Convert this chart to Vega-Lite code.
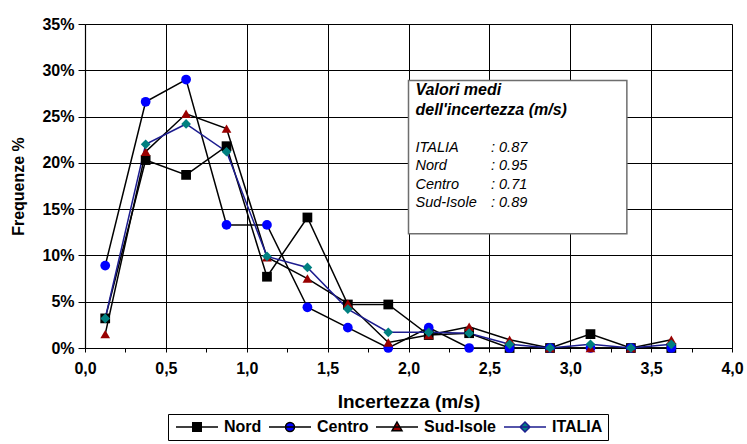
{
  "$schema": "https://vega.github.io/schema/vega-lite/v6.json",
  "width": 647,
  "height": 324,
  "autosize": {"type": "none"},
  "padding": {"left": 85, "top": 24, "right": 15, "bottom": 96},
  "background": "#ffffff",
  "config": {
    "view": {"stroke": null},
    "font": "Liberation Sans",
    "axis": {
      "labelFont": "Liberation Sans",
      "labelFontWeight": "bold",
      "labelFontSize": 16,
      "labelColor": "#000000",
      "titleFont": "Liberation Sans",
      "titleFontWeight": "bold",
      "titleColor": "#000000",
      "domainColor": "#000000",
      "domainWidth": 1.2,
      "tickColor": "#000000",
      "gridColor": "#000000",
      "gridWidth": 1
    }
  },
  "datasets": {
    "freq": [
      {"x": 0.125, "serie": "Nord", "v": 3.2},
      {"x": 0.375, "serie": "Nord", "v": 20.3},
      {"x": 0.625, "serie": "Nord", "v": 18.7},
      {"x": 0.875, "serie": "Nord", "v": 21.8},
      {"x": 1.125, "serie": "Nord", "v": 7.7},
      {"x": 1.375, "serie": "Nord", "v": 14.1},
      {"x": 1.625, "serie": "Nord", "v": 4.7},
      {"x": 1.875, "serie": "Nord", "v": 4.7},
      {"x": 2.125, "serie": "Nord", "v": 1.4},
      {"x": 2.375, "serie": "Nord", "v": 1.6},
      {"x": 2.625, "serie": "Nord", "v": 0.0},
      {"x": 2.875, "serie": "Nord", "v": 0.0},
      {"x": 3.125, "serie": "Nord", "v": 1.5},
      {"x": 3.375, "serie": "Nord", "v": 0.0},
      {"x": 3.625, "serie": "Nord", "v": 0.0},
      {"x": 0.125, "serie": "Centro", "v": 8.9},
      {"x": 0.375, "serie": "Centro", "v": 26.6},
      {"x": 0.625, "serie": "Centro", "v": 29.0},
      {"x": 0.875, "serie": "Centro", "v": 13.3},
      {"x": 1.125, "serie": "Centro", "v": 13.3},
      {"x": 1.375, "serie": "Centro", "v": 4.4},
      {"x": 1.625, "serie": "Centro", "v": 2.2},
      {"x": 1.875, "serie": "Centro", "v": 0.0},
      {"x": 2.125, "serie": "Centro", "v": 2.2},
      {"x": 2.375, "serie": "Centro", "v": 0.0},
      {"x": 2.625, "serie": "Centro", "v": 0.0},
      {"x": 2.875, "serie": "Centro", "v": 0.0},
      {"x": 3.125, "serie": "Centro", "v": 0.0},
      {"x": 3.375, "serie": "Centro", "v": 0.0},
      {"x": 3.625, "serie": "Centro", "v": 0.0},
      {"x": 0.125, "serie": "Sud-Isole", "v": 1.5},
      {"x": 0.375, "serie": "Sud-Isole", "v": 21.2},
      {"x": 0.625, "serie": "Sud-Isole", "v": 25.3},
      {"x": 0.875, "serie": "Sud-Isole", "v": 23.7},
      {"x": 1.125, "serie": "Sud-Isole", "v": 9.8},
      {"x": 1.375, "serie": "Sud-Isole", "v": 7.5},
      {"x": 1.625, "serie": "Sud-Isole", "v": 4.8},
      {"x": 1.875, "serie": "Sud-Isole", "v": 0.6},
      {"x": 2.125, "serie": "Sud-Isole", "v": 1.4},
      {"x": 2.375, "serie": "Sud-Isole", "v": 2.3},
      {"x": 2.625, "serie": "Sud-Isole", "v": 0.9},
      {"x": 2.875, "serie": "Sud-Isole", "v": 0.0},
      {"x": 3.125, "serie": "Sud-Isole", "v": 0.0},
      {"x": 3.375, "serie": "Sud-Isole", "v": 0.0},
      {"x": 3.625, "serie": "Sud-Isole", "v": 0.9},
      {"x": 0.125, "serie": "ITALIA", "v": 3.2},
      {"x": 0.375, "serie": "ITALIA", "v": 22.0},
      {"x": 0.625, "serie": "ITALIA", "v": 24.2},
      {"x": 0.875, "serie": "ITALIA", "v": 21.2},
      {"x": 1.125, "serie": "ITALIA", "v": 9.9},
      {"x": 1.375, "serie": "ITALIA", "v": 8.7},
      {"x": 1.625, "serie": "ITALIA", "v": 4.2},
      {"x": 1.875, "serie": "ITALIA", "v": 1.7},
      {"x": 2.125, "serie": "ITALIA", "v": 1.7},
      {"x": 2.375, "serie": "ITALIA", "v": 1.6},
      {"x": 2.625, "serie": "ITALIA", "v": 0.4},
      {"x": 2.875, "serie": "ITALIA", "v": 0.0},
      {"x": 3.125, "serie": "ITALIA", "v": 0.4},
      {"x": 3.375, "serie": "ITALIA", "v": 0.0},
      {"x": 3.625, "serie": "ITALIA", "v": 0.4}
    ],
    "box": [
      {"titolo": "Valori medi dell'incertezza (m/s)"}
    ]
  },
  "layer": [
    {
      "data": {"name": "freq"},
      "mark": {"type": "line", "strokeWidth": 1.5},
      "encoding": {
        "x": {
          "field": "x",
          "type": "quantitative",
          "scale": {"domain": [0, 4], "nice": false, "zero": false},
          "axis": {
            "title": "Incertezza (m/s)",
            "titleFontSize": 19,
            "titlePadding": 16,
            "values": [0, 0.25, 0.5, 0.75, 1, 1.25, 1.5, 1.75, 2, 2.25, 2.5, 2.75, 3, 3.25, 3.5, 3.75, 4],
            "labelExpr": "abs(datum.value*2-round(datum.value*2))<0.01 ? replace(format(datum.value,'.1f'),'.',',') : ''",
            "labelFlush": false,
            "labelOverlap": false,
            "labelPadding": 8,
            "tickSize": 4,
            "grid": true,
            "gridOpacity": {"condition": {"test": "abs(datum.value*2-round(datum.value*2))<0.01", "value": 1}, "value": 0}
          }
        },
        "y": {
          "field": "v",
          "type": "quantitative",
          "scale": {"domain": [0, 35], "nice": false},
          "axis": {
            "title": "Frequenze %",
            "titleFontSize": 16,
            "titlePadding": 15,
            "values": [0, 5, 10, 15, 20, 25, 30, 35],
            "labelExpr": "datum.value + '%'",
            "labelPadding": 4,
            "tickSize": 7,
            "grid": true
          }
        },
        "stroke": {
          "field": "serie",
          "type": "nominal",
          "scale": {"domain": ["Nord", "Centro", "Sud-Isole", "ITALIA"], "range": ["#000000", "#000000", "#000000", "#1c1c8f"]},
          "legend": null
        }
      }
    },
    {
      "data": {"name": "freq"},
      "mark": {"type": "point", "filled": true, "opacity": 1, "size": 95},
      "encoding": {
        "x": {"field": "x", "type": "quantitative"},
        "y": {"field": "v", "type": "quantitative"},
        "shape": {
          "field": "serie",
          "type": "nominal",
          "scale": {"domain": ["Nord", "Centro", "Sud-Isole", "ITALIA"], "range": ["square", "circle", "triangle-up", "diamond"]},
          "legend": null
        },
        "fill": {
          "field": "serie",
          "type": "nominal",
          "scale": {"domain": ["Nord", "Centro", "Sud-Isole", "ITALIA"], "range": ["#000000", "#0000ff", "#990000", "#008080"]},
          "legend": null
        }
      }
    },
    {
      "data": {"name": "freq"},
      "transform": [{"filter": "datum.v < 0"}],
      "mark": {"type": "point", "filled": true, "opacity": 1, "strokeWidth": 1.5},
      "encoding": {
        "x": {"field": "x", "type": "quantitative"},
        "y": {"field": "v", "type": "quantitative"},
        "shape": {
          "field": "serie",
          "type": "nominal",
          "scale": {
            "domain": ["Nord", "Centro", "Sud-Isole", "ITALIA"],
            "range": [
              "M-1,0H7.4M2.35,-0.85H4.05V0.85H2.35Z",
              "M-1,0H7.4M2.3,0A0.9,0.9,0,1,0,4.1,0A0.9,0.9,0,1,0,2.3,0Z",
              "M-1,0H7.4M3.2,-1L4.2,0.75H2.2Z",
              "M-1,0H7.4M3.2,-1L4.2,0L3.2,1L2.2,0Z"
            ]
          },
          "legend": {"title": null, "orient": "none", "legendX": 83, "legendY": 390, "direction": "horizontal", "columns": 4, "strokeColor": "#000000", "fillColor": "#ffffff", "padding": 5, "symbolSize": 100, "symbolStrokeWidth": 1.5, "symbolOpacity": 1, "labelOffset": 35, "columnPadding": 4, "labelFont": "Liberation Sans", "labelFontWeight": "bold", "labelFontSize": 16, "labelColor": "#000000"}
        },
        "fill": {
          "field": "serie",
          "type": "nominal",
          "scale": {"domain": ["Nord", "Centro", "Sud-Isole", "ITALIA"], "range": ["#000000", "#0000ff", "#990000", "#008080"]},
          "legend": {"title": null, "orient": "none", "legendX": 83, "legendY": 390, "direction": "horizontal", "columns": 4, "strokeColor": "#000000", "fillColor": "#ffffff", "padding": 5, "symbolSize": 100, "symbolStrokeWidth": 1.5, "symbolOpacity": 1, "labelOffset": 35, "columnPadding": 4, "labelFont": "Liberation Sans", "labelFontWeight": "bold", "labelFontSize": 16, "labelColor": "#000000"}
        },
        "stroke": {
          "field": "serie",
          "type": "nominal",
          "scale": {"domain": ["Nord", "Centro", "Sud-Isole", "ITALIA"], "range": ["#000000", "#000000", "#000000", "#1c1c8f"]},
          "legend": {"title": null, "orient": "none", "legendX": 83, "legendY": 390, "direction": "horizontal", "columns": 4, "strokeColor": "#000000", "fillColor": "#ffffff", "padding": 5, "symbolSize": 100, "symbolStrokeWidth": 1.5, "symbolOpacity": 1, "labelOffset": 35, "columnPadding": 4, "labelFont": "Liberation Sans", "labelFontWeight": "bold", "labelFontSize": 16, "labelColor": "#000000"}
        }
      }
    },
    {
      "data": {"name": "box"},
      "mark": {"type": "rect", "fill": "#ffffff", "stroke": "#6e6e6e", "strokeWidth": 1.5},
      "encoding": {
        "x": {"datum": 2.0, "type": "quantitative"},
        "x2": {"datum": 3.35},
        "y": {"datum": 28.9, "type": "quantitative"},
        "y2": {"datum": 12.35}
      }
    },
    {
      "data": {"name": "box"},
      "mark": {"type": "text", "text": ["Valori medi", "dell'incertezza (m/s)"], "align": "left", "baseline": "alphabetic", "font": "Liberation Sans", "fontSize": 16, "fontWeight": "bold", "fontStyle": "italic", "lineHeight": 20, "fill": "#000000"},
      "encoding": {
        "x": {"datum": 2.043, "type": "quantitative"},
        "y": {"datum": 27.3, "type": "quantitative"}
      }
    },
    {
      "data": {"name": "box"},
      "mark": {"type": "text", "text": ["ITALIA", "Nord", "Centro", "Sud-Isole"], "align": "left", "baseline": "alphabetic", "font": "Liberation Sans", "fontSize": 14.5, "fontStyle": "italic", "lineHeight": 18.3, "fill": "#000000"},
      "encoding": {
        "x": {"datum": 2.043, "type": "quantitative"},
        "y": {"datum": 21.17, "type": "quantitative"}
      }
    },
    {
      "data": {"name": "box"},
      "mark": {"type": "text", "text": [": 0.87", ": 0.95", ": 0.71", ": 0.89"], "align": "left", "baseline": "alphabetic", "font": "Liberation Sans", "fontSize": 14.5, "fontStyle": "italic", "lineHeight": 18.3, "fill": "#000000"},
      "encoding": {
        "x": {"datum": 2.51, "type": "quantitative"},
        "y": {"datum": 21.17, "type": "quantitative"}
      }
    }
  ],
  "resolve": {"scale": {"shape": "independent", "fill": "independent", "stroke": "independent"}}
}
